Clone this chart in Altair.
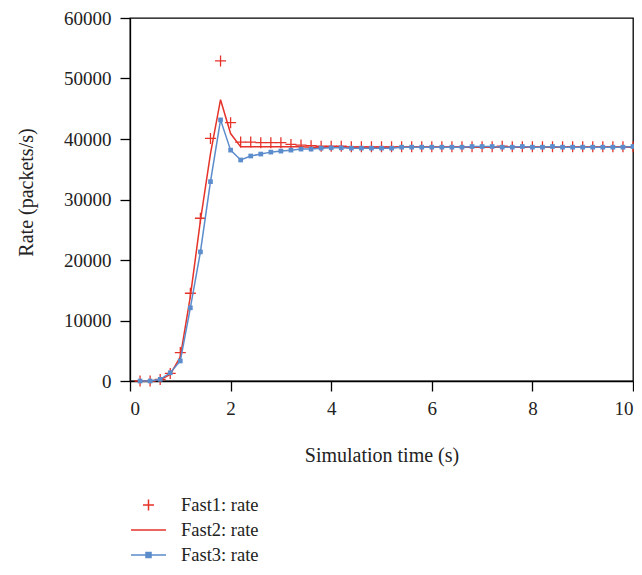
import altair as alt
import pandas as pd

time = [0.2, 0.4, 0.6, 0.8, 1.0, 1.2, 1.4, 1.6, 1.8, 2.0,
        2.2, 2.4, 2.6, 2.8, 3.0, 3.2, 3.4, 3.6, 3.8, 4.0,
        4.2, 4.4, 4.6, 4.8, 5.0, 5.2, 5.4, 5.6, 5.8, 6.0,
        6.2, 6.4, 6.6, 6.8, 7.0, 7.2, 7.4, 7.6, 7.8, 8.0,
        8.2, 8.4, 8.6, 8.8, 9.0, 9.2, 9.4, 9.6, 9.8, 10.0]

fast1 = [0, 0, 250, 1250, 4700, 14500, 26900, 40100, 52900, 42700,
         39500, 39500, 39400, 39400, 39400, 39100, 39000, 38900, 38800, 38800,
         38800, 38700, 38700, 38700, 38700, 38700, 38700, 38700, 38700, 38700,
         38700, 38700, 38700, 38700, 38700, 38700, 38800, 38700, 38700, 38700,
         38700, 38700, 38700, 38700, 38700, 38700, 38700, 38700, 38700, 38700]

fast2 = [0, 0, 200, 1100, 4000, 14000, 26500, 37600, 46500, 40900,
         38700, 38700, 38700, 38700, 38700, 38700, 38700, 38650, 38650, 38650,
         38650, 38650, 38650, 38650, 38650, 38650, 38650, 38650, 38650, 38650,
         38650, 38650, 38650, 38650, 38650, 38650, 38650, 38650, 38650, 38650,
         38650, 38650, 38650, 38650, 38650, 38650, 38650, 38650, 38650, 38650]

fast3 = [0, 0, 280, 1360, 3310, 12100, 21340, 32950, 43160, 38160,
         36530, 37190, 37510, 37830, 38000, 38160, 38330, 38330, 38490, 38540,
         38540, 38490, 38490, 38490, 38490, 38490, 38650, 38650, 38650, 38650,
         38650, 38650, 38650, 38760, 38760, 38760, 38650, 38650, 38760, 38650,
         38650, 38760, 38650, 38650, 38650, 38650, 38650, 38650, 38650, 38760]

series = ["Fast1: rate", "Fast2: rate", "Fast3: rate"]
colors = ["#e5332a", "#e5332a", "#5b8ccc"]
RED = "#e5332a"
BLUE = "#5b8ccc"

cross_path = "M-0.55,0H0.55M0,-0.55V0.55"
line_path = "M-1.75,0H1.75"
linesq_path = "M-1.75,0H1.75M-0.25,-0.25H0.25V0.25H-0.25Z"
shapes = [cross_path, line_path, linesq_path]

FONT = "Liberation Serif"

df1 = pd.DataFrame({"t": time, "v": fast1, "series": series[0]})
df2 = pd.DataFrame({"t": time, "v": fast2})
df3 = pd.DataFrame({"t": time, "v": fast3})

x = alt.X("t:Q", scale=alt.Scale(domain=[0, 10], nice=False),
          axis=alt.Axis(values=[0, 2, 4, 6, 8, 10], title="Simulation time (s)",
                        labelPadding=8, titlePadding=27))
y = alt.Y("v:Q", scale=alt.Scale(domain=[0, 60000], nice=False),
          axis=alt.Axis(values=[0, 10000, 20000, 30000, 40000, 50000, 60000],
                        format="d", title="Rate (packets/s)",
                        labelPadding=9, titlePadding=27, titleY=174))

fill_scale = alt.Scale(domain=series, range=colors)
shape_scale = alt.Scale(domain=series, range=shapes)
legend = alt.Legend(title=None, orient="none", legendX=7.5, legendY=476,
                    direction="vertical", symbolSize=400, symbolStrokeWidth=1.5,
                    labelFont=FONT, labelFontSize=18.5, labelColor="#222222",
                    labelOffset=21.5, rowPadding=4, padding=0)

l1 = alt.Chart(df1).mark_point(filled=True, size=400, strokeWidth=1.3, opacity=1).encode(
    x=x, y=y,
    fill=alt.Fill("series:N", scale=fill_scale, legend=legend),
    stroke=alt.Stroke("series:N", scale=fill_scale, legend=legend),
    shape=alt.Shape("series:N", scale=shape_scale, legend=legend),
)

l2 = alt.Chart(df2).mark_line(color=RED, strokeWidth=1.5).encode(x=x, y=y)
l3 = alt.Chart(df3).mark_line(color=BLUE, strokeWidth=1.5).encode(x=x, y=y)
l3p = alt.Chart(df3).mark_point(shape="square", filled=True, size=22, color=BLUE, opacity=1).encode(x=x, y=y)

chart = alt.layer(l1, l2, l3, l3p).properties(
    width=503, height=363,
    autosize="none",
    padding={"left": 122, "top": 10, "right": 1, "bottom": 186},
).configure_view(stroke="black", strokeWidth=1.3).configure_axis(
    domainColor="black", domainWidth=1.3, tickColor="black", tickWidth=1.3,
    tickSize=10, grid=False,
    labelFont=FONT, labelFontSize=19, labelColor="#222222",
    titleFont=FONT, titleFontSize=20, titleFontWeight="normal", titleColor="#222222",
)

chart.save("out.html", embed_options={"renderer": "svg", "actions": False})
